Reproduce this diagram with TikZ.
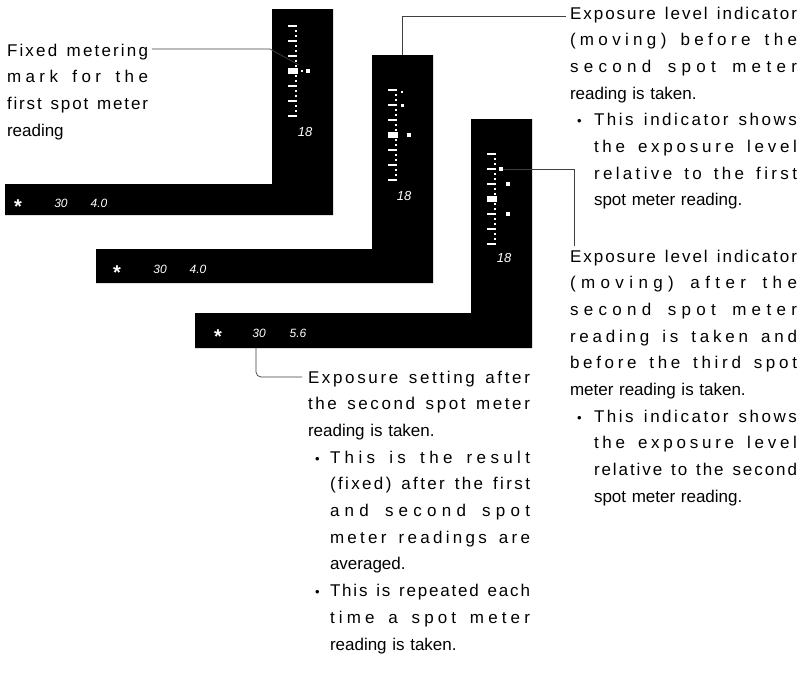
\documentclass[tikz,border=0pt]{standalone}
\usepackage{fontspec}
\setmainfont{Liberation Sans}
% letter classes for tracking-style justification
\newcount\myc
\def\setclassrange#1#2{\myc=#1\relax\loop\XeTeXcharclass\myc=11\relax\ifnum\myc<#2\relax\advance\myc by1\relax\repeat}
\setclassrange{`a}{`z}
\setclassrange{`A}{`Z}
\XeTeXcharclass`\(=11
\XeTeXcharclass`\)=11
\XeTeXcharclass`\.=11
\XeTeXcharclass`\,=11
\XeTeXinterchartoks 11 11 = {\hskip 0pt plus 1fil\relax}
\newcommand\txtfont{\fontsize{17}{26.7}\selectfont\parskip=0pt\relax}
\newcommand\jset{\spaceskip=4.7pt plus 2.2fil\relax\xspaceskip=4.7pt plus 2.2fil\relax\XeTeXinterchartokenstate=1\relax}
\newcommand\lcdfont{\itshape\fontsize{12}{12}\selectfont}
\newlength\bind
\newlength\bpos
\newcommand\tJL[1]{\makebox[\linewidth][s]{\jset#1}\par}
\newcommand\tLL[1]{\mbox{#1}\par}
\newcommand\tBJ[1]{\makebox[\bind][l]{\hspace*{\bpos}{\fontsize{13}{13}\selectfont\textbullet}}\makebox[\dimexpr\linewidth-\bind\relax][s]{\jset#1}\par}
\newcommand\tIJ[1]{\hspace*{\bind}\makebox[\dimexpr\linewidth-\bind\relax][s]{\jset#1}\par}
\newcommand\tIL[1]{\hspace*{\bind}\mbox{#1}\par}
\newcommand\lcdscale[2]{%
  \foreach \k in {-3,...,3}{\fill[white] (#1+16,#2+15*\k-1.1) rectangle (#1+25,#2+15*\k+1.1);}
  \foreach \k in {-3,...,2}{%
    \fill[white] (#1+23.4,#2+15*\k+4.2) rectangle (#1+25,#2+15*\k+5.8);
    \fill[white] (#1+23.4,#2+15*\k+9.2) rectangle (#1+25,#2+15*\k+10.8);}
  \fill[white] (#1+16,#2-3) rectangle (#1+26,#2+3);
}
\begin{document}
\begin{tikzpicture}[x=1pt,y=-1pt,
  panel/.style={fill=black},
  lcddot/.style={fill=white,draw=none,rectangle,inner sep=0pt,outer sep=0pt,minimum size=#1},
  leader/.style={draw=black!75,line width=0.7pt},
  txt/.style={anchor=base west,inner sep=0pt,outer sep=0pt,text width=#1,font=\txtfont},
  lcd/.style={text=white,font=\lcdfont,inner sep=0pt,anchor=base},
  star/.style={text=white,font=\bfseries\fontsize{20}{20}\selectfont,inner sep=0pt,anchor=base}]
\useasboundingbox (0,0) rectangle (802,672);

% panels
\fill[panel] (5,184) -- (272,184) -- (272,9) -- (333,9) -- (333,215) -- (5,215) -- cycle;
\fill[panel] (96,249) -- (372,249) -- (372,55) -- (433,55) -- (433,283) -- (96,283) -- cycle;
\fill[panel] (195,313) -- (471,313) -- (471,119) -- (532,119) -- (532,348) -- (195,348) -- cycle;

% scales
\lcdscale{272}{71}
\lcdscale{372}{135}
\lcdscale{471}{199}

% indicator marks
\node[lcddot=2.5pt] (p1d1) at (302,71) {};
\node[lcddot=3.5pt] (p1d2) at (308,71) {};
\node[lcddot=1.5pt] (p2d0) at (402,92) {};
\node[lcddot=3pt] (p2d1) at (402,105) {};
\node[lcddot=4pt] (p2d2) at (409,135) {};
\node[lcddot=3.5pt] (p3d1) at (501,169) {};
\node[lcddot=4pt] (p3d2) at (508,184) {};
\node[lcddot=4pt] (p3d3) at (508,214) {};

% 18 readouts
\node[lcd,font=\itshape\fontsize{13}{13}\selectfont] (p1n) at (305,136.5) {18};
\node[lcd,font=\itshape\fontsize{13}{13}\selectfont] (p2n) at (404,200.5) {18};
\node[lcd,font=\itshape\fontsize{13}{13}\selectfont] (p3n) at (504,262.5) {18};

% bottom readouts
\node[star] (p1s) at (18,213) {*};
\node[lcd] (p1t) at (61,207) {30};
\node[lcd] (p1f) at (99,207) {4.0};
\node[star] (p2s) at (117,279) {*};
\node[lcd] (p2t) at (160,273) {30};
\node[lcd] (p2f) at (198,273) {4.0};
\node[star] (p3s) at (218,343) {*};
\node[lcd] (p3t) at (259,337) {30};
\node[lcd] (p3f) at (298,337) {5.6};

% text blocks
\node[txt=141pt] (ta) at (7,56) {%
\tJL{Fixed metering}
\tJL{mark for the}
\tJL{first spot meter}
\tLL{reading}};

\node[txt=227pt] (tb) at (570,19) {\setlength\bind{24pt}\setlength\bpos{7pt}%
\tJL{Exposure level indicator}
\tJL{(moving) before the}
\tJL{second spot meter}
\tLL{reading is taken.}
\tBJ{This indicator shows}
\tIJ{the exposure level}
\tIJ{relative to the first}
\tIL{spot meter reading.}};

\node[txt=227pt] (tc) at (570,262) {\setlength\bind{24pt}\setlength\bpos{7pt}%
\tJL{Exposure level indicator}
\tJL{(moving) after the}
\tJL{second spot meter}
\tJL{reading is taken and}
\tJL{before the third spot}
\tLL{meter reading is taken.}
\tBJ{This indicator shows}
\tIJ{the exposure level}
\tIJ{relative to the second}
\tIL{spot meter reading.}};

\node[txt=222pt] (td) at (308,383) {\setlength\bind{22pt}\setlength\bpos{7pt}%
\tJL{Exposure setting after}
\tJL{the second spot meter}
\tLL{reading is taken.}
\tBJ{This is the result}
\tIJ{(fixed) after the first}
\tIJ{and second spot}
\tIJ{meter readings are}
\tIL{averaged.}
\tBJ{This is repeated each}
\tIJ{time a spot meter}
\tIL{reading is taken.}};

% leaders
\coordinate (a1) at (152,49);
\coordinate (a2) at (270,49);
\coordinate (a3) at (299,65);
\draw[leader] (a1) -- (a2) -- (a3);

\coordinate (b0) at (402,55);
\coordinate (b1) at (566,16);
\draw[leader] (b0) |- (b1);

\coordinate (c1) at (574,169);
\coordinate (c2) at (574,246);
\draw[leader] (p3d1) -- (c1) -- (c2);

\coordinate (d0) at (256,348);
\coordinate (d1) at (302,377);
\draw[leader,rounded corners=5pt] (d0) |- (d1);
\end{tikzpicture}
\end{document}
